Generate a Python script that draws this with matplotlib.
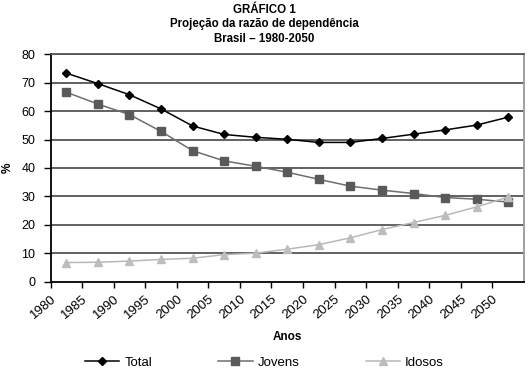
import matplotlib
matplotlib.use("Agg")
import matplotlib.pyplot as plt

plt.rcParams['font.family'] = ['Liberation Sans', 'DejaVu Sans']

anos = [1982.5, 1987.5, 1992.5, 1997.5, 2002.5, 2007.5, 2012.5, 2017.5,
        2022.5, 2027.5, 2032.5, 2037.5, 2042.5, 2047.5, 2052.5]
total = [73.4, 69.7, 65.8, 60.8, 54.8, 51.8, 50.8, 50.1,
         49.0, 49.0, 50.4, 51.9, 53.4, 55.1, 57.9]
jovens = [66.7, 62.5, 58.8, 52.9, 46.1, 42.5, 40.6, 38.5,
          36.0, 33.6, 32.2, 31.0, 29.6, 29.0, 28.0]
idosos = [6.7, 6.8, 7.2, 7.8, 8.2, 9.5, 10.0, 11.4,
          13.0, 15.4, 18.3, 20.8, 23.3, 26.3, 29.8]
ticks_x = list(range(1980, 2051, 5))
ticks_y = list(range(0, 81, 10))

fig = plt.figure(figsize=(5.29, 3.70), dpi=100)
ax = fig.add_axes([0.0955, 0.239, 0.895, 0.614])

# linhas de grelha
for v in ticks_y[1:]:
    ax.axhline(v, color='#555555', lw=1.3, zorder=1)

ax.plot(anos, total, color='black', lw=1.1, marker='D', ms=4,
        mfc='black', mec='black', label='Total', zorder=3)
ax.plot(anos, jovens, color='#6e6e6e', lw=1.1, marker='s', ms=5.5,
        mfc='#5a5a5a', mec='#5a5a5a', label='Jovens', zorder=3)
ax.plot(anos, idosos, color='#b8b8b8', lw=1.1, marker='^', ms=5.5,
        mfc='#bdbdbd', mec='#bdbdbd', label='Idosos', zorder=3)

ax.set_xlim(1980, 2055)
ax.set_ylim(0, 80)
ax.set_xticks(ticks_x)
ax.set_xticklabels([str(t) for t in ticks_x], rotation=40, ha='right',
                   rotation_mode='anchor', fontsize=9.5)
ax.set_yticks(ticks_y)
ax.tick_params(axis='y', labelsize=9, length=5, width=1, pad=6)
ax.tick_params(axis='x', length=4, width=1, pad=4)

ax.spines['left'].set_color('black')
ax.spines['left'].set_linewidth(1.3)
ax.spines['bottom'].set_color('black')
ax.spines['bottom'].set_linewidth(1.3)
ax.spines['top'].set_color('#555555')
ax.spines['top'].set_linewidth(1.3)
ax.spines['right'].set_color('#999999')
ax.spines['right'].set_linewidth(1.3)

ax.set_xlabel('Anos', fontsize=8.5, fontweight='bold', va='center')
ax.xaxis.set_label_coords(0.5, -0.244)
ax.set_ylabel('%', fontsize=8.5, fontweight='bold', va='center')
ax.yaxis.set_label_coords(-0.09, 0.5)

fig.text(0.5, 0.972, 'GRÁFICO 1', ha='center', va='center',
         fontsize=8.3, fontweight='bold')
fig.text(0.5, 0.934, 'Projeção da razão de dependência', ha='center',
         va='center', fontsize=8.3, fontweight='bold')
fig.text(0.5, 0.894, 'Brasil – 1980-2050', ha='center', va='center',
         fontsize=8.3, fontweight='bold')

fig.legend(loc='center', bbox_to_anchor=(0.5, 0.019), ncol=3, frameon=False,
           fontsize=9.5, columnspacing=5.0, handlelength=2.6, handletextpad=0.4)

fig.savefig('out.png', dpi=100)
